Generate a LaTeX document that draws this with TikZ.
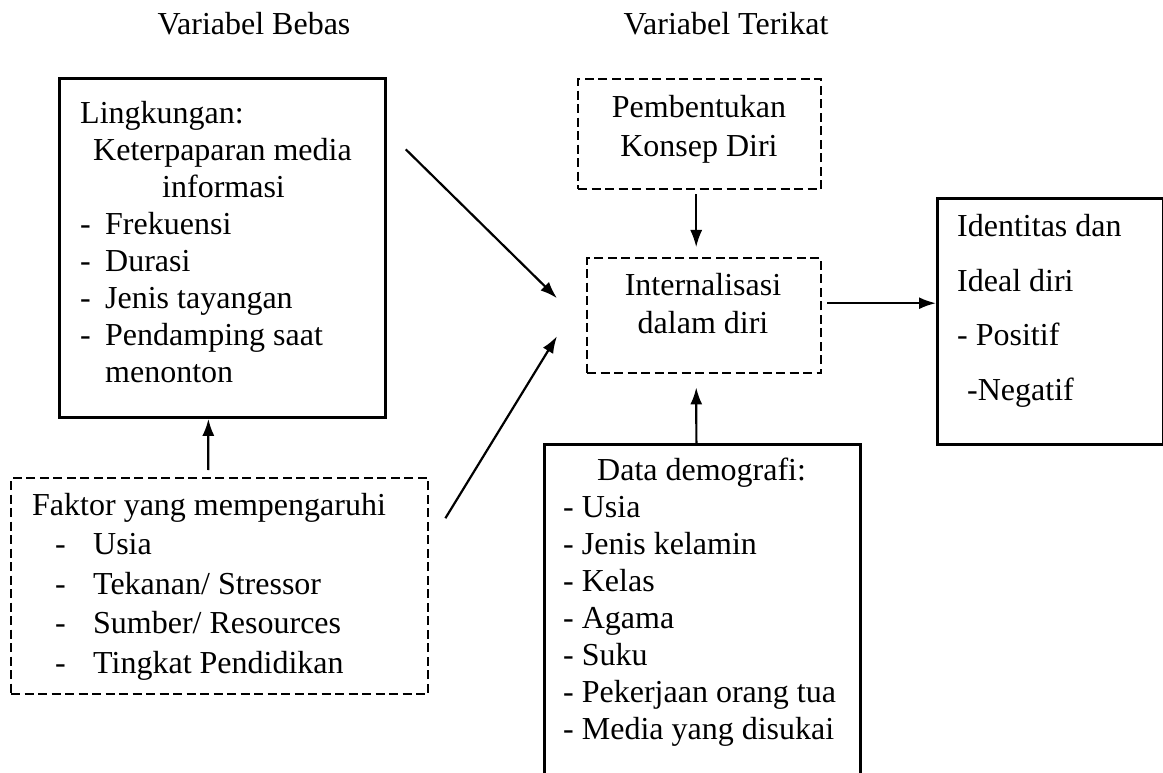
\documentclass[tikz,border=0pt]{standalone}
\usepackage{fontspec}
\setmainfont{Liberation Serif}
\usetikzlibrary{arrows.meta}

\tikzset{
  solidbox/.style={draw, line width=2.8pt, anchor=north west, inner sep=0pt},
  dashbox/.style={draw, line width=2.4pt, dash pattern=on 9pt off 4.5pt, anchor=north west, inner sep=0pt},
  txt/.style={inner sep=0pt, align=left, anchor=base west},
  ctxt/.style={inner sep=0pt, align=center, anchor=base},
  arr/.style={line width=2.2pt, -{Latex[length=17pt, width=12pt]}},
}

\begin{document}
\begin{tikzpicture}[x=1pt, y=-1pt, font=\fontsize{32}{37}\selectfont]
    \useasboundingbox (0,0) rectangle (1163,773);
    \clip (0,0) rectangle (1163,773);

    % draw headings
    \node[ctxt] (bebas) at (254,35) {Variabel Bebas};
    \node[ctxt] (terikat) at (726,35) {Variabel Terikat};

    % draw boxes
    \node[solidbox, minimum width=326pt, minimum height=339pt] (ling) at (58,77) {};
    \node[dashbox, minimum width=417pt, minimum height=216pt] (fak) at (10,477) {};
    \node[dashbox, minimum width=243pt, minimum height=110pt] (pemb) at (577,78) {};
    \node[dashbox, minimum width=234pt, minimum height=115pt] (inter) at (586,257) {};
    \node[solidbox, minimum width=226pt, minimum height=246pt] (ident) at (936,197) {};
    \node[solidbox, minimum width=316pt, minimum height=360pt] (dem) at (543,443) {};

    % draw box texts (placed at the baseline of their last line)
    \node[txt] (lingtxt) at (80,382) {Lingkungan:\\
        \hspace*{13pt}Keterpaparan media\\
        \hspace*{82pt}informasi\\
        \makebox[25pt][l]{-}Frekuensi\\
        \makebox[25pt][l]{-}Durasi\\
        \makebox[25pt][l]{-}Jenis tayangan\\
        \makebox[25pt][l]{-}Pendamping saat\\
        \hspace*{25pt}menonton};
    \node[txt, font=\fontsize{32}{39.5}\selectfont] (faktxt) at (32,673) {Faktor yang mempengaruhi\\
        \hspace*{23pt}\makebox[38pt][l]{-}Usia\\
        \hspace*{23pt}\makebox[38pt][l]{-}Tekanan/ Stressor\\
        \hspace*{23pt}\makebox[38pt][l]{-}Sumber/ Resources\\
        \hspace*{23pt}\makebox[38pt][l]{-}Tingkat Pendidikan};
    \node[ctxt, font=\fontsize{32}{39}\selectfont] (pembtxt) at (699,157) {Pembentukan\\Konsep Diri};
    \node[ctxt, font=\fontsize{32}{38}\selectfont] (intertxt) at (703,333) {Internalisasi\\dalam diri};
    \node[txt, font=\fontsize{32}{54.5}\selectfont] (identtxt) at (957,400) {Identitas dan\\
        Ideal diri\\
        - Positif\\
        \hspace*{10pt}-Negatif};
    \node[txt] (demtxt) at (563,739) {\hspace*{34pt}Data demografi:\\
        - Usia\\
        - Jenis kelamin\\
        - Kelas\\
        - Agama\\
        - Suku\\
        - Pekerjaan orang tua\\
        - Media yang disukai};

    % draw arrows
    \draw[arr] ([xshift=19pt, yshift=98.5pt]ling.east) -- ([xshift=-29pt, yshift=17.5pt]inter.west);
    \draw[arr] ([xshift=16pt, yshift=68pt]fak.east) -- ([xshift=-29pt, yshift=-20.5pt]inter.west);
    \draw[arr, shorten <=7pt] ([xshift=-11.5pt]fak.north) -- ([xshift=-14pt]ling.south);
    \draw[arr, line width=1.6pt, shorten <=4pt, shorten >=10pt] ([xshift=-3.5pt]pemb.south) -- ([xshift=-8pt]inter.north);
    \draw[arr, shorten >=13pt] ([xshift=-6pt]dem.north) -- ([xshift=-8pt]inter.south);
    \draw[arr, shorten <=5pt] ([yshift=12.5pt]inter.east) -- ([yshift=12.5pt]inter.east -| ident.west);

\end{tikzpicture}
\end{document}
